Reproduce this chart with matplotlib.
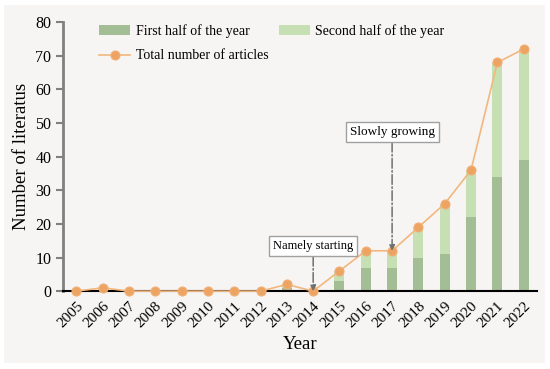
import matplotlib
matplotlib.use('Agg')
import matplotlib.pyplot as plt
import numpy as np

plt.rc('font', family='Liberation Serif', size=11)

years = ['2005', '2006', '2007', '2008', '2009', '2010', '2011', '2012', '2013',
         '2014', '2015', '2016', '2017', '2018', '2019', '2020', '2021', '2022']
first_half = [0, 0, 0, 0, 0, 0, 0, 0, 1, 0, 3, 7, 7, 10, 11, 22, 34, 39]
total = [0, 1, 0, 0, 0, 0, 0, 0, 2, 0, 6, 12, 12, 19, 26, 36, 68, 72]
second_half = [t - f for t, f in zip(total, first_half)]

bg = '#f7f5f3'
c_first = '#a3bd94'
c_second = '#c6e0b4'
c_line = '#f2b77e'
c_mark = '#eda462'

fig = plt.figure(figsize=(5.5, 3.69), dpi=100)
fig.patch.set_facecolor('white')
fig.patches.append(plt.Rectangle((0.007, 0.016), 0.984, 0.970, transform=fig.transFigure,
                                 facecolor=bg, edgecolor='none', zorder=-10))
ax = fig.add_axes([0.115, 0.211, 0.861, 0.729])
ax.set_facecolor(bg)

x = np.arange(len(years))
b1 = ax.bar(x, first_half, width=0.38, color=c_first, label='First half of the year', zorder=2)
b2 = ax.bar(x, second_half, width=0.38, bottom=first_half, color=c_second,
            label='Second half of the year', zorder=2)
l1, = ax.plot(x, total, '-o', color=c_line, lw=1.2, ms=6.5, mfc=c_mark, mec='#f0b078',
              mew=0.8, label='Total number of articles', zorder=4, clip_on=False)

# annotations
bbox = dict(boxstyle='square,pad=0.3', fc='white', ec='#a0a0a0', lw=1)
arrow = dict(arrowstyle='-|>', color='#707070', ls='-.', lw=1.1, mutation_scale=8,
             shrinkA=0, shrinkB=0)
ax.annotate('Namely starting', xy=(9, 0), xytext=(9, 13.4), ha='center', va='center',
            fontsize=9, bbox=bbox, arrowprops=arrow, zorder=5)
ax.annotate('Slowly growing', xy=(12, 12), xytext=(12, 47.4), ha='center', va='center',
            fontsize=9.5, bbox=bbox, arrowprops=arrow, zorder=5)

ax.set_xlim(-0.5, 17.5)
ax.set_ylim(0, 80)
ax.set_yticks(range(0, 81, 10))
ax.set_xticks(x)
ax.set_xticklabels(years, rotation=45, ha='right', rotation_mode='anchor')
ax.tick_params(axis='x', length=0, pad=6, labelsize=11)
ax.tick_params(axis='y', length=5, width=1.5, color='#808080', labelsize=11.5)

for s in ['top', 'right']:
    ax.spines[s].set_visible(False)
ax.spines['left'].set_color('#808080')
ax.spines['left'].set_linewidth(2)
ax.spines['bottom'].set_color('black')
ax.spines['bottom'].set_linewidth(1.5)
ax.spines['bottom'].set_zorder(3)

ax.set_xlabel('Year', fontsize=13.5, labelpad=4)
ax.set_ylabel('Number of literatus', fontsize=13.5, labelpad=4)

ax.legend([b1, l1, b2], ['First half of the year', 'Total number of articles',
                         'Second half of the year'],
          loc='upper left', bbox_to_anchor=(0.05, 1.04), ncol=2, frameon=False,
          fontsize=10, handlelength=2.2, handletextpad=0.4, columnspacing=0.8,
          labelspacing=0.85)

fig.savefig('out.png', dpi=100, facecolor='white')
